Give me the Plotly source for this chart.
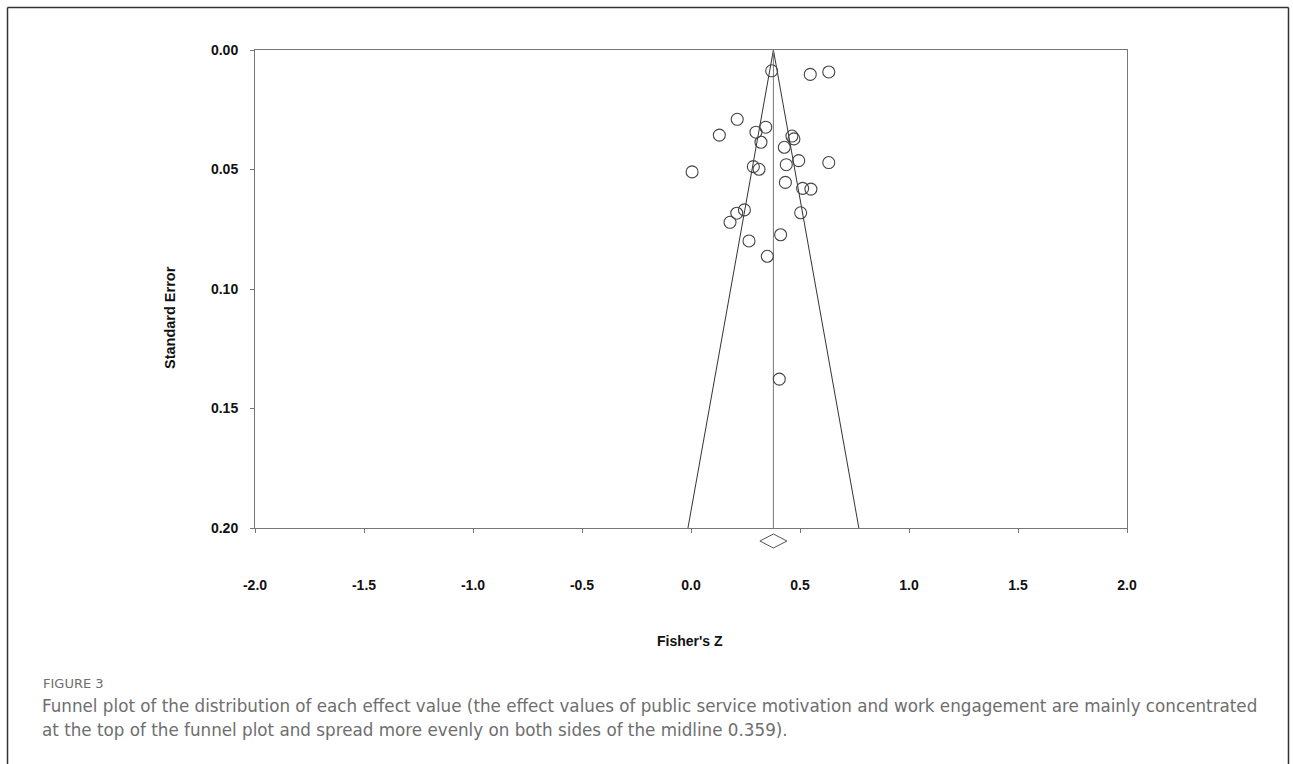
import plotly.graph_objects as go

# ---- data ----
fisher_z = [0.370, 0.547, 0.632, 0.212, 0.130, 0.343, 0.298, 0.321, 0.463, 0.472,
            0.428, 0.005, 0.286, 0.312, 0.437, 0.494, 0.632, 0.433, 0.512, 0.550,
            0.245, 0.210, 0.179, 0.503, 0.411, 0.266, 0.350, 0.405]
std_err = [0.0087, 0.0102, 0.0092, 0.0290, 0.0356, 0.0323, 0.0344, 0.0386, 0.0360, 0.0372,
           0.0407, 0.0510, 0.0488, 0.0499, 0.0480, 0.0463, 0.0471, 0.0554, 0.0579, 0.0582,
           0.0669, 0.0683, 0.0721, 0.0681, 0.0773, 0.0799, 0.0863, 0.1377]
pooled_z = 0.378
pooled_ci_half = 0.062
se_max = 0.20
x_ticks = [-2.0, -1.5, -1.0, -0.5, 0.0, 0.5, 1.0, 1.5, 2.0]
y_ticks = [0.00, 0.05, 0.10, 0.15, 0.20]

caption_head = "FIGURE 3"
caption_lines = [
    "Funnel plot of the distribution of each effect value (the effect values of public service motivation and work engagement are mainly concentrated",
    "at the top of the funnel plot and spread more evenly on both sides of the midline 0.359).",
]

W, H = 1293, 764
L, R, T, B = 255, 166, 50, 236
pw, ph = W - L - R, H - T - B


def px_x(p):
    return (p - L) / pw


def px_y(p):
    return (H - B - p) / ph


axis_col = "#777777"
mark_col = "#444444"
bold_font = dict(family="Liberation Sans, Arial", size=14, color="#111111", weight="bold")

fig = go.Figure()

# funnel (95% pseudo confidence limits)
fig.add_trace(go.Scatter(
    x=[pooled_z - 1.96 * se_max, pooled_z, pooled_z + 1.96 * se_max],
    y=[se_max, 0, se_max],
    mode="lines", line=dict(color="#333333", width=1), hoverinfo="skip", showlegend=False))
# midline
fig.add_trace(go.Scatter(
    x=[pooled_z, pooled_z], y=[0, se_max],
    mode="lines", line=dict(color=axis_col, width=1), hoverinfo="skip", showlegend=False))
# studies
fig.add_trace(go.Scatter(
    x=fisher_z, y=std_err, mode="markers",
    marker=dict(symbol="circle-open", size=12, color=mark_col, line=dict(width=1.1)),
    showlegend=False))

fig.update_xaxes(
    range=[-2, 2], tickvals=x_ticks, ticktext=[f"{v:.1f}" for v in x_ticks],
    showgrid=False, zeroline=False, showline=True, linecolor=axis_col, linewidth=1,
    mirror=True, ticks="outside", ticklen=4, tickcolor=axis_col,
    ticklabelstandoff=40, tickfont=bold_font)
fig.update_yaxes(
    range=[se_max, 0], tickvals=y_ticks, ticktext=[f"{v:.2f}" for v in y_ticks],
    showgrid=False, zeroline=False, showline=True, linecolor=axis_col, linewidth=1,
    mirror=True, ticks="outside", ticklen=4, tickcolor=axis_col,
    ticklabelstandoff=9, tickfont=bold_font)

cap_font = "DejaVu Sans"
cap_col = "#6e6e6e"
annotations = [
    dict(text="Fisher's Z", x=px_x(690), y=px_y(641), xref="paper", yref="paper",
         showarrow=False, xanchor="center", yanchor="middle", font=bold_font),
    dict(text="Standard Error", x=px_x(170), y=px_y(318), xref="paper", yref="paper",
         showarrow=False, xanchor="center", yanchor="middle", textangle=-90,
         font=dict(bold_font, size=14.5)),
    dict(text=caption_head, x=px_x(41), y=px_y(683), xref="paper", yref="paper",
         showarrow=False, xanchor="left", yanchor="middle",
         font=dict(family=cap_font, size=13, color=cap_col)),
]
for i, line in enumerate(caption_lines):
    annotations.append(dict(
        text=line, x=px_x(40), y=px_y(706 + 24 * i), xref="paper", yref="paper",
        showarrow=False, xanchor="left", yanchor="middle",
        font=dict(family=cap_font, size=16.75, color=cap_col)))

# pooled-estimate diamond drawn just below the axis (x in data units)
dy_c = px_y(541)
dy_h = 7 / ph
diamond_path = (f"M {pooled_z - pooled_ci_half},{dy_c} L {pooled_z},{dy_c + dy_h} "
                f"L {pooled_z + pooled_ci_half},{dy_c} L {pooled_z},{dy_c - dy_h} Z")

frame_col = "#333333"
shapes = [
    dict(type="path", xref="x", yref="paper", path=diamond_path,
         line=dict(color="#555555", width=1)),
    dict(type="line", xref="paper", yref="paper", x0=px_x(7.5), x1=px_x(1288.5),
         y0=px_y(7.5), y1=px_y(7.5), line=dict(color=frame_col, width=1.5)),
    dict(type="line", xref="paper", yref="paper", x0=px_x(7.5), x1=px_x(7.5),
         y0=px_y(7.5), y1=px_y(770), line=dict(color=frame_col, width=1.5)),
    dict(type="line", xref="paper", yref="paper", x0=px_x(1288.5), x1=px_x(1288.5),
         y0=px_y(7.5), y1=px_y(770), line=dict(color=frame_col, width=1.5)),
]

fig.update_layout(
    width=W, height=H, margin=dict(l=L, r=R, t=T, b=B, autoexpand=False),
    paper_bgcolor="white", plot_bgcolor="white",
    annotations=annotations, shapes=shapes, showlegend=False)

fig.write_html("out.html", config={"displayModeBar": False},
               post_script="document.body.style.margin='0';document.body.style.overflow='hidden';")
